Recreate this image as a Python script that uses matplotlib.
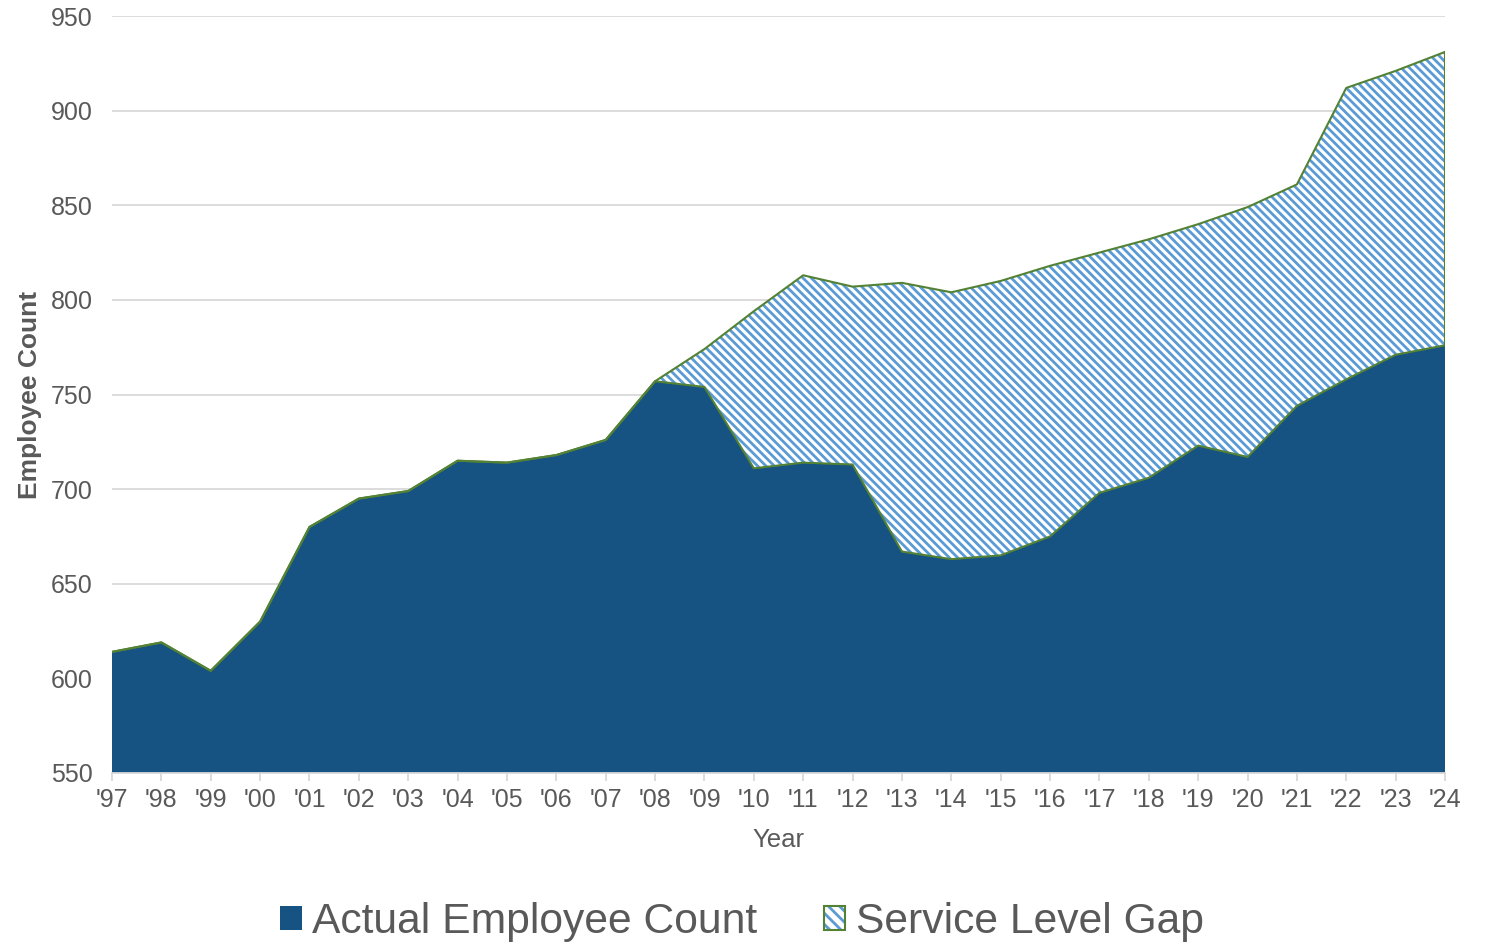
import numpy as np
import matplotlib.pyplot as plt
from matplotlib.patches import Patch
from matplotlib.legend_handler import HandlerTuple

plt.rcParams['font.family'] = ['Liberation Sans', 'DejaVu Sans']
plt.rcParams['hatch.linewidth'] = 2.0

# Headcount by year, '97 through '24
years = list(range(1997, 2025))
tick_labels = ["'%02d" % (y % 100) for y in years]
actual = [614, 619, 604, 630, 680, 695, 699, 715, 714, 718, 726, 757, 754,
          711, 714, 713, 667, 663, 665, 675, 698, 706, 723, 717, 744, 758,
          771, 776]
# Staffing needed to hold service levels (equals actual up to '08)
needed = [614, 619, 604, 630, 680, 695, 699, 715, 714, 718, 726, 757, 774,
          794, 813, 807, 809, 804, 810, 818, 825, 832, 840, 849, 861, 912,
          921, 931]

x = np.array(years)
actual = np.array(actual)
needed = np.array(needed)

navy = '#165282'
stripe = '#5B9BD5'
outline = '#548235'
grey = '#595959'
light = '#D9D9D9'
hatch = '\\\\\\\\'

fig = plt.figure(figsize=(14.93, 9.43), dpi=100)
ax = fig.add_axes([112 / 1493, 1 - 773 / 943, (1445 - 112) / 1493, (773 - 16) / 943])

# solid area for the actual count
ax.fill_between(x, 0, actual, facecolor=navy, edgecolor='none', zorder=2)
# hatched band between actual and needed
ax.fill_between(x, actual, needed, facecolor='white', edgecolor=stripe,
                hatch=hatch, linewidth=0, zorder=2)
ax.plot(x, actual, color=outline, lw=1.5, zorder=3)
ax.plot(x, needed, color=outline, lw=1.5, zorder=3)
ax.plot([x[-1], x[-1]], [actual[-1], needed[-1]], color=outline, lw=1.5, zorder=3)

ax.set_xlim(1997, 2024)
ax.set_ylim(550, 950)
ax.set_yticks(np.arange(550, 951, 50))
ax.set_xticks(x)
ax.set_xticklabels(tick_labels)

ax.grid(axis='y', color=light, lw=1.3, zorder=0)
ax.set_axisbelow(True)
for s in ['top', 'right', 'left']:
    ax.spines[s].set_visible(False)
ax.spines['bottom'].set_color(light)
ax.spines['bottom'].set_linewidth(1.3)
ax.spines['bottom'].set_zorder(4)

ax.tick_params(axis='y', length=0, labelsize=18, labelcolor=grey, pad=14)
ax.tick_params(axis='x', length=6, width=1.3, color=light, labelsize=18,
               labelcolor=grey, pad=5)

ax.set_xlabel('Year', fontsize=18.5, color=grey, labelpad=11)
ax.set_ylabel('Employee Count', fontsize=19, color=grey, fontweight='bold',
              labelpad=6)

swatch_fill = Patch(facecolor='white', edgecolor=stripe, hatch='\\\\\\', linewidth=0)
swatch_edge = Patch(facecolor='none', edgecolor=outline, linewidth=1.5)
handles = [Patch(facecolor=navy, edgecolor='none'), (swatch_fill, swatch_edge)]
labels = ['Actual Employee Count', 'Service Level Gap']
leg = fig.legend(handles, labels, loc='center', bbox_to_anchor=(0.497, 1 - 922 / 943),
                 ncol=2, frameon=False, fontsize=30.7, handlelength=0.5,
                 handleheight=0.5, handletextpad=0.25, columnspacing=1.55,
                 handler_map={tuple: HandlerTuple(ndivide=1, pad=0)})
for t in leg.get_texts():
    t.set_color(grey)

fig.savefig('out.png', dpi=100)
